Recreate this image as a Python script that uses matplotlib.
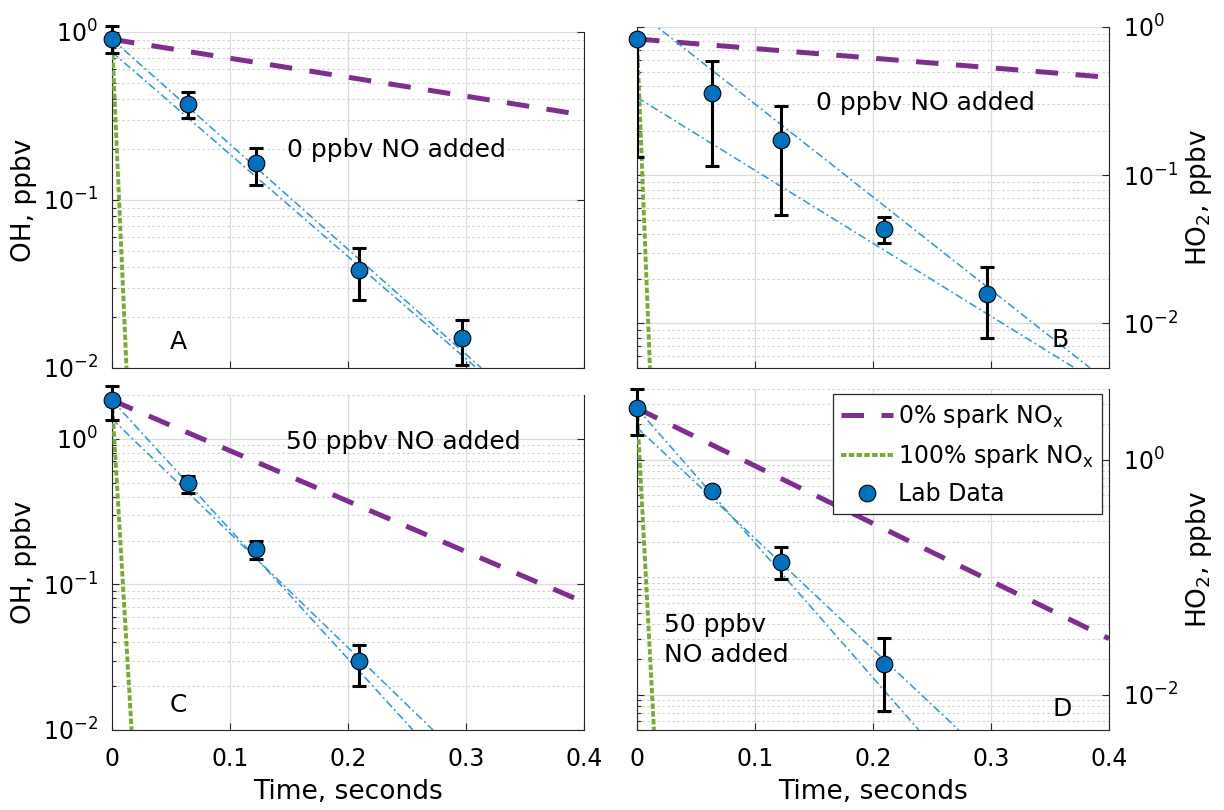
import matplotlib.pyplot as plt
import numpy as np
from matplotlib.ticker import FixedLocator, LogLocator, NullFormatter

# lab data: reaction time (s), mixing ratio (ppbv) and error-bar ends
t_lab = [0, 0.064, 0.122, 0.209, 0.297]

oh_0no = [0.905, 0.373, 0.165, 0.0383, 0.0150]
oh_0no_lo = [0.746, 0.306, 0.123, 0.0254, 0.0104]
oh_0no_hi = [1.086, 0.441, 0.203, 0.0516, 0.0193]

ho2_0no = [0.826, 0.356, 0.172, 0.043, 0.0159]
ho2_0no_lo = [0.132, 0.116, 0.0537, 0.0349, 0.0080]
ho2_0no_hi = [0.826, 0.589, 0.292, 0.052, 0.024]  # upper bar at t=0 is off the plot

oh_50no = [1.84, 0.495, 0.174, 0.0296]
oh_50no_lo = [1.34, 0.424, 0.149, 0.0201]
oh_50no_hi = [2.31, 0.553, 0.199, 0.0386]

ho2_50no = [2.74, 0.546, 0.135, 0.0183]
ho2_50no_lo = [1.62, 0.51, 0.0968, 0.0073]
ho2_50no_hi = [3.97, 0.58, 0.181, 0.0306]

# model lines (straight on log axes), panels A, B, C, D
purple_start = [0.905, 0.83, 1.84, 2.74]   # 0% spark NOx at t=0
purple_end = [0.32, 0.457, 0.0755, 0.030]  # ... at t=0.4
green_start = [0.905, 0.83, 1.84, 2.74]    # 100% spark NOx
green_end_t = [0.0123, 0.011, 0.0166, 0.0144]
fit1_start = [0.905, 1.28, 1.84, 2.74]     # dash-dot bounds
fit1_end_t = [0.313, 0.384, 0.255, 0.2388]
fit2_start = [0.76, 0.335, 1.37, 1.88]
fit2_end_t = [0.309, 0.371, 0.272, 0.2727]
line_floor = [0.01, 0.005, 0.01, 0.005]

x_ticks = [0, 0.1, 0.2, 0.3, 0.4]
x_ticklabels = ['0', '0.1', '0.2', '0.3', '0.4']

PURPLE = '#7E2F8E'
GREEN = '#77AC30'
BLUE = '#0072BD'
FITBLUE = '#3399DD'
DARK = '#262626'

panels = [
    dict(pos=[0.0915, 0.5457, 0.3856, 0.4148], y=oh_0no, lo=oh_0no_lo, hi=oh_0no_hi,
         ylim=(0.01, 1), yticks=[1e-2, 1e-1, 1], right=False, ylabel='OH, ppbv',
         note='0 ppbv NO added', note_xy=(0.602, 0.649), note_ha='center',
         letter='A', letter_xy=(0.14, 0.078), clip=False, bottom=False),
    dict(pos=[0.5204, 0.5457, 0.3856, 0.421], y=ho2_0no, lo=ho2_0no_lo, hi=ho2_0no_hi,
         ylim=(0.005, 1), yticks=[1e-2, 1e-1, 1], right=True, ylabel='HO$_2$, ppbv',
         note='0 ppbv NO added', note_xy=(0.612, 0.776), note_ha='center',
         letter='B', letter_xy=(0.896, 0.082), clip=True, bottom=False),
    dict(pos=[0.0915, 0.0988, 0.3856, 0.4136], y=oh_50no, lo=oh_50no_lo, hi=oh_50no_hi,
         ylim=(0.01, 2), yticks=[1e-2, 1e-1, 1], right=False, ylabel='OH, ppbv',
         note='50 ppbv NO added', note_xy=(0.617, 0.861), note_ha='center',
         letter='C', letter_xy=(0.14, 0.075), clip=False, bottom=True),
    dict(pos=[0.5204, 0.0988, 0.3856, 0.421], y=ho2_50no, lo=ho2_50no_lo, hi=ho2_50no_hi,
         ylim=(0.005, 4), yticks=[1e-2, 1], right=True, ylabel='HO$_2$, ppbv',
         note='50 ppbv\nNO added', note_xy=(0.057, 0.264), note_ha='left',
         letter='D', letter_xy=(0.90, 0.061), clip=False, bottom=True),
]

fig = plt.figure(figsize=(12.24, 8.1), dpi=100)

for k, p in enumerate(panels):
    ax = fig.add_axes(p['pos'])
    ax.set_yscale('log')
    ax.set_xlim(0, 0.4)
    ax.set_ylim(*p['ylim'])

    h_purple, = ax.plot([0, 0.4], [purple_start[k], purple_end[k]], color=PURPLE,
                        lw=3.6, dashes=(4.5, 3.5), zorder=3)
    h_green, = ax.plot([0, green_end_t[k]], [green_start[k], line_floor[k]], color=GREEN,
                       lw=2.8, dashes=(1.4, 0.6), zorder=3)
    for y0, te in [(fit1_start[k], fit1_end_t[k]), (fit2_start[k], fit2_end_t[k])]:
        ax.plot([0, te], [y0, line_floor[k]], color=FITBLUE, lw=1.15,
                dashes=(5, 2, 1.2, 2), zorder=3)

    y = np.array(p['y'])
    t = t_lab[:len(y)]
    eb = ax.errorbar(t, y, yerr=[y - np.array(p['lo']), np.array(p['hi']) - y], fmt='none',
                     ecolor='black', elinewidth=2.2, capsize=4.8, capthick=2.2, zorder=4)
    for art in list(eb[1]) + list(eb[2]):
        art.set_clip_on(p['clip'])
    h_lab, = ax.plot(t, y, 'o', ms=12, mfc=BLUE, mec='black', mew=0.8,
                     clip_on=False, zorder=5)

    # ticks and grid
    ax.yaxis.set_major_locator(FixedLocator(p['yticks']))
    ax.yaxis.set_minor_locator(LogLocator(base=10, subs='all', numticks=50))
    ax.yaxis.set_minor_formatter(NullFormatter())
    ax.set_xticks(x_ticks)
    ax.set_xticklabels(x_ticklabels)
    ax.tick_params(which='both', direction='in', color=DARK, width=0.8)
    ax.tick_params(which='major', length=5)
    ax.tick_params(which='minor', length=3)
    ax.tick_params(axis='y', left=True, right=True, labelsize=17, pad=10,
                   labelleft=not p['right'], labelright=p['right'])
    ax.tick_params(axis='x', top=False, labelsize=17, pad=12, labelbottom=p['bottom'])
    ax.grid(True, which='major', color='#dcdcdc', lw=0.9)
    ax.grid(True, which='minor', axis='y', color='#cccccc', lw=0.8, ls=(0, (2, 2.5)))
    ax.set_axisbelow(True)
    ax.spines['top'].set_visible(False)
    for s in ['left', 'right', 'bottom']:
        ax.spines[s].set_color(DARK)
        ax.spines[s].set_linewidth(0.8)

    # labels
    if p['right']:
        ax.yaxis.set_label_position('right')
        ax.set_ylabel(p['ylabel'], fontsize=19)
        ax.yaxis.set_label_coords(1.159, 0.5)
    else:
        ax.set_ylabel(p['ylabel'], fontsize=19)
        ax.yaxis.set_label_coords(-0.158, 0.5)
    if p['bottom']:
        ax.set_xlabel('Time, seconds', fontsize=19)
        ax.xaxis.set_label_coords(0.5, -0.145)

    ax.text(*p['note_xy'], p['note'], transform=ax.transAxes, fontsize=18,
            ha=p['note_ha'], va='center', linespacing=1.35)
    ax.text(*p['letter_xy'], p['letter'], transform=ax.transAxes, fontsize=18,
            ha='center', va='center')

    if k == 3:
        leg = ax.legend([h_purple, h_green, h_lab],
                        ['0% spark NO$_\\mathregular{x}$', '100% spark NO$_\\mathregular{x}$', 'Lab Data'],
                        loc='upper right', bbox_to_anchor=(0.985, 0.985), fontsize=17,
                        frameon=True, fancybox=False, framealpha=1, edgecolor=DARK,
                        borderaxespad=0, handlelength=2.2, handletextpad=0.2,
                        labelspacing=0.5, borderpad=0.35, numpoints=1)
        leg.get_frame().set_linewidth(0.9)
        leg.set_zorder(6)

fig.savefig('out.png', dpi=100)
